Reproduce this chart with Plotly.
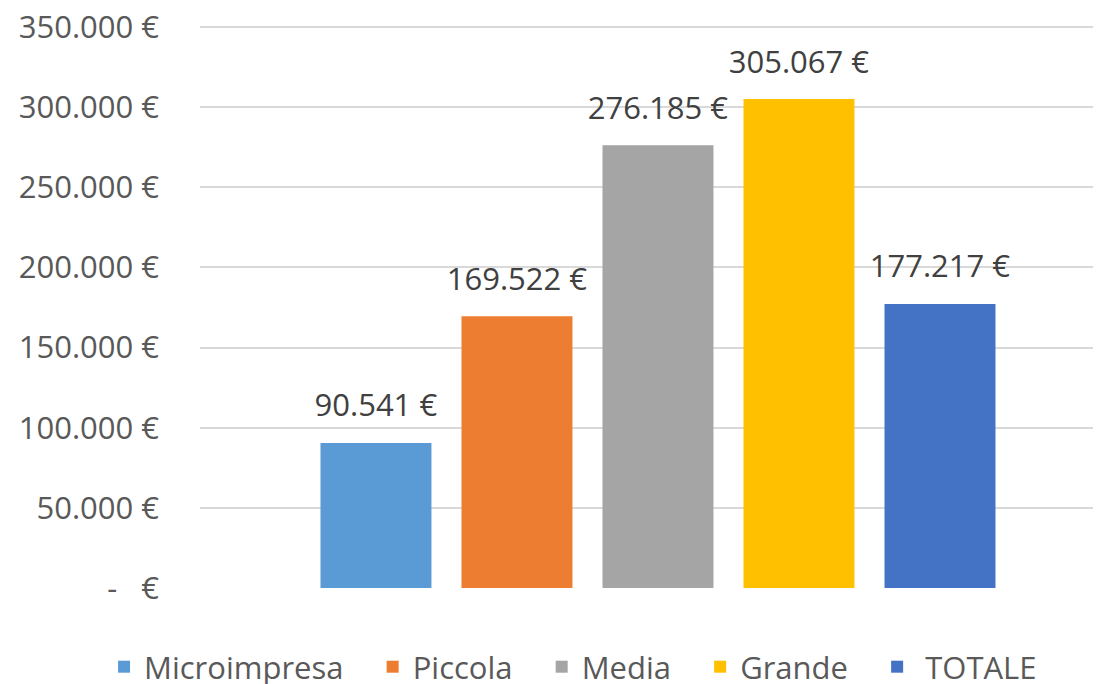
import plotly.graph_objects as go

series = ["Microimpresa", "Piccola", "Media", "Grande", "TOTALE"]
values = [90541, 169522, 276185, 305067, 177217]
labels = ["90.541 €", "169.522 €", "276.185 €", "305.067 €", "177.217 €"]
colors = ["#5B9BD5", "#ED7D31", "#A5A5A5", "#FFC000", "#4472C4"]
tick_vals = [0, 50000, 100000, 150000, 200000, 250000, 300000, 350000]
tick_text = ["-\u00a0\u00a0\u00a0€", "50.000 €", "100.000 €", "150.000 €",
             "200.000 €", "250.000 €", "300.000 €", "350.000 €"]
legend_names = ["Microimpresa\u00a0\u00a0\u00a0", "Piccola\u00a0\u00a0\u00a0",
                "Media\u00a0\u00a0\u00a0", "Grande\u00a0\u00a0\u00a0", "\u00a0TOTALE"]

FONT = "Open Sans, Noto Sans, sans-serif"
FS = 31

fig = go.Figure()
for name, lname, v, lab, c in zip(series, legend_names, values, labels, colors):
    fig.add_trace(go.Bar(
        x=[0], y=[v], name=lname,
        marker=dict(color=c, line=dict(width=0)),
        text=[f"<span style='font-size:{FS}px'>{lab}</span><br><span style='font-size:15px'> </span>"],
        textposition="outside",
        constraintext="none",
        textfont=dict(family=FONT, size=15, color="#404040"),
        cliponaxis=False,
    ))

fig.update_layout(
    width=1093, height=676,
    margin=dict(l=192, r=0, t=17, b=96, autoexpand=False),
    paper_bgcolor="white", plot_bgcolor="white",
    barmode="group",
    bargap=0.2175,
    bargroupgap=0.213,
    showlegend=True,
    legend=dict(
        orientation="h", x=-0.1065, xanchor="left", xref="paper",
        y=-0.1404, yanchor="middle", yref="paper",
        font=dict(family=FONT, size=FS, color="#595959"),
        itemwidth=30, tracegroupgap=0,
    ),
    xaxis=dict(range=[-0.5083, 0.4917], showticklabels=False, showgrid=False,
               zeroline=False, showline=False),
    yaxis=dict(range=[0, 351250], tickvals=tick_vals, ticktext=tick_text,
               showgrid=True, gridcolor="#D9D9D9", gridwidth=2,
               zeroline=False, showline=False, ticks="",
               ticklabelstandoff=40, ticklabeloverflow="allow",
               tickfont=dict(family=FONT, size=FS, color="#595959")),
)

fig.write_html("out.html")
